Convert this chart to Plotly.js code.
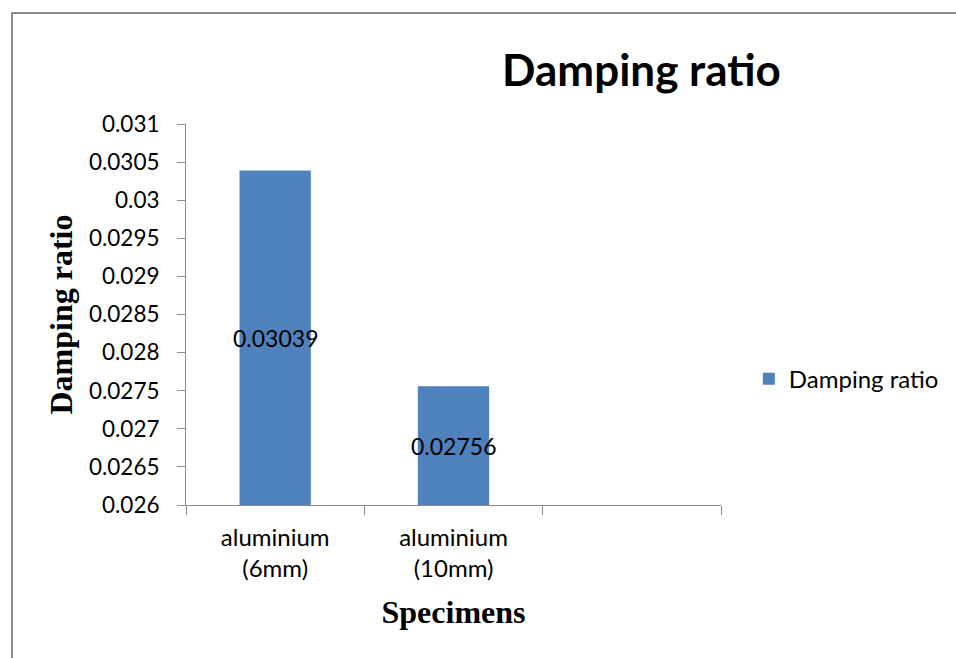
<!DOCTYPE html>
<html>
<head>
<meta charset="utf-8">
<script src="https://cdn.plot.ly/plotly-3.0.1.min.js"></script>
<style>
html,body{margin:0;padding:0;background:#fff;overflow:hidden;}
#frame{position:absolute;left:11px;top:12px;width:1000px;height:700px;border:2px solid #8c8c8c;box-sizing:border-box;}
#chart{position:absolute;left:0;top:0;width:956px;height:658px;}
</style>
</head>
<body>
<div id="frame"></div>
<div id="chart"></div>
<script>
var categories = ["aluminium<br>(6mm)", "aluminium<br>(10mm)", " "];
var dampingRatio = [0.03039, 0.02756, null];
var valueLabels = ["0.03039", "0.02756", ""];
var seriesName = "Damping ratio";
var yRange = [0.026, 0.031];
var yTicks = [0.026, 0.0265, 0.027, 0.0275, 0.028, 0.0285, 0.029, 0.0295, 0.03, 0.0305, 0.031];
var yTickText = ["0.026", "0.0265", "0.027", "0.0275", "0.028", "0.0285", "0.029", "0.0295", "0.03", "0.0305", "0.031"];

var sans = "Lato, 'Open Sans', sans-serif";
var serif = "'Liberation Serif', 'Times New Roman', serif";

var trace = {
  type: "bar",
  x: categories,
  y: dampingRatio,
  name: seriesName,
  marker: {color: "#4f81bd"},
  hoverinfo: "x+y",
  showlegend: true
};

// data labels centred on the visible part of each bar
var annotations = [];
for (var i = 0; i < categories.length; i++) {
  if (dampingRatio[i] === null || valueLabels[i] === "") continue;
  annotations.push({
    x: categories[i], xref: "x",
    y: (dampingRatio[i] + yRange[0]) / 2, yref: "y",
    text: valueLabels[i],
    showarrow: false,
    xanchor: "center", yanchor: "middle",
    font: {family: sans, size: 23, color: "#000"}
  });
}

var layout = {
  width: 956,
  height: 658,
  margin: {l: 186, r: 235, t: 124, b: 153},
  paper_bgcolor: "rgba(0,0,0,0)",
  plot_bgcolor: "rgba(0,0,0,0)",
  bargap: 0.6,
  annotations: annotations,
  title: {
    text: "<b>Damping ratio</b>",
    font: {family: sans, size: 44, color: "#000"},
    xref: "container", yref: "container",
    x: 0.671, y: 0.893, xanchor: "center", yanchor: "middle"
  },
  xaxis: {
    type: "category",
    tickson: "boundaries",
    ticks: "outside",
    ticklen: 9,
    tickcolor: "#8c8c8c",
    ticklabelstandoff: 11,
    showline: true,
    linecolor: "#8c8c8c",
    linewidth: 1,
    showgrid: false,
    tickfont: {family: sans, size: 24, color: "#000"},
    title: {text: "<b>Specimens</b>", font: {family: serif, size: 32, color: "#000"}, standoff: 19}
  },
  yaxis: {
    range: yRange,
    tickvals: yTicks,
    ticktext: yTickText,
    ticks: "outside",
    ticklen: 8,
    tickcolor: "#8c8c8c",
    ticklabelstandoff: 13,
    showline: true,
    linecolor: "#8c8c8c",
    linewidth: 1,
    showgrid: false,
    zeroline: false,
    tickfont: {family: sans, size: 22.5, color: "#000"},
    title: {text: "<b>Damping ratio</b>", font: {family: serif, size: 32, color: "#000"}, standoff: 6}
  },
  legend: {
    x: 1.052, y: 0.33, xanchor: "left", yanchor: "middle",
    font: {family: sans, size: 24, color: "#000"},
    bgcolor: "rgba(0,0,0,0)",
    itemwidth: 30
  }
};

Plotly.newPlot("chart", [trace], layout, {displayModeBar: false, staticPlot: true});
</script>
</body>
</html>
